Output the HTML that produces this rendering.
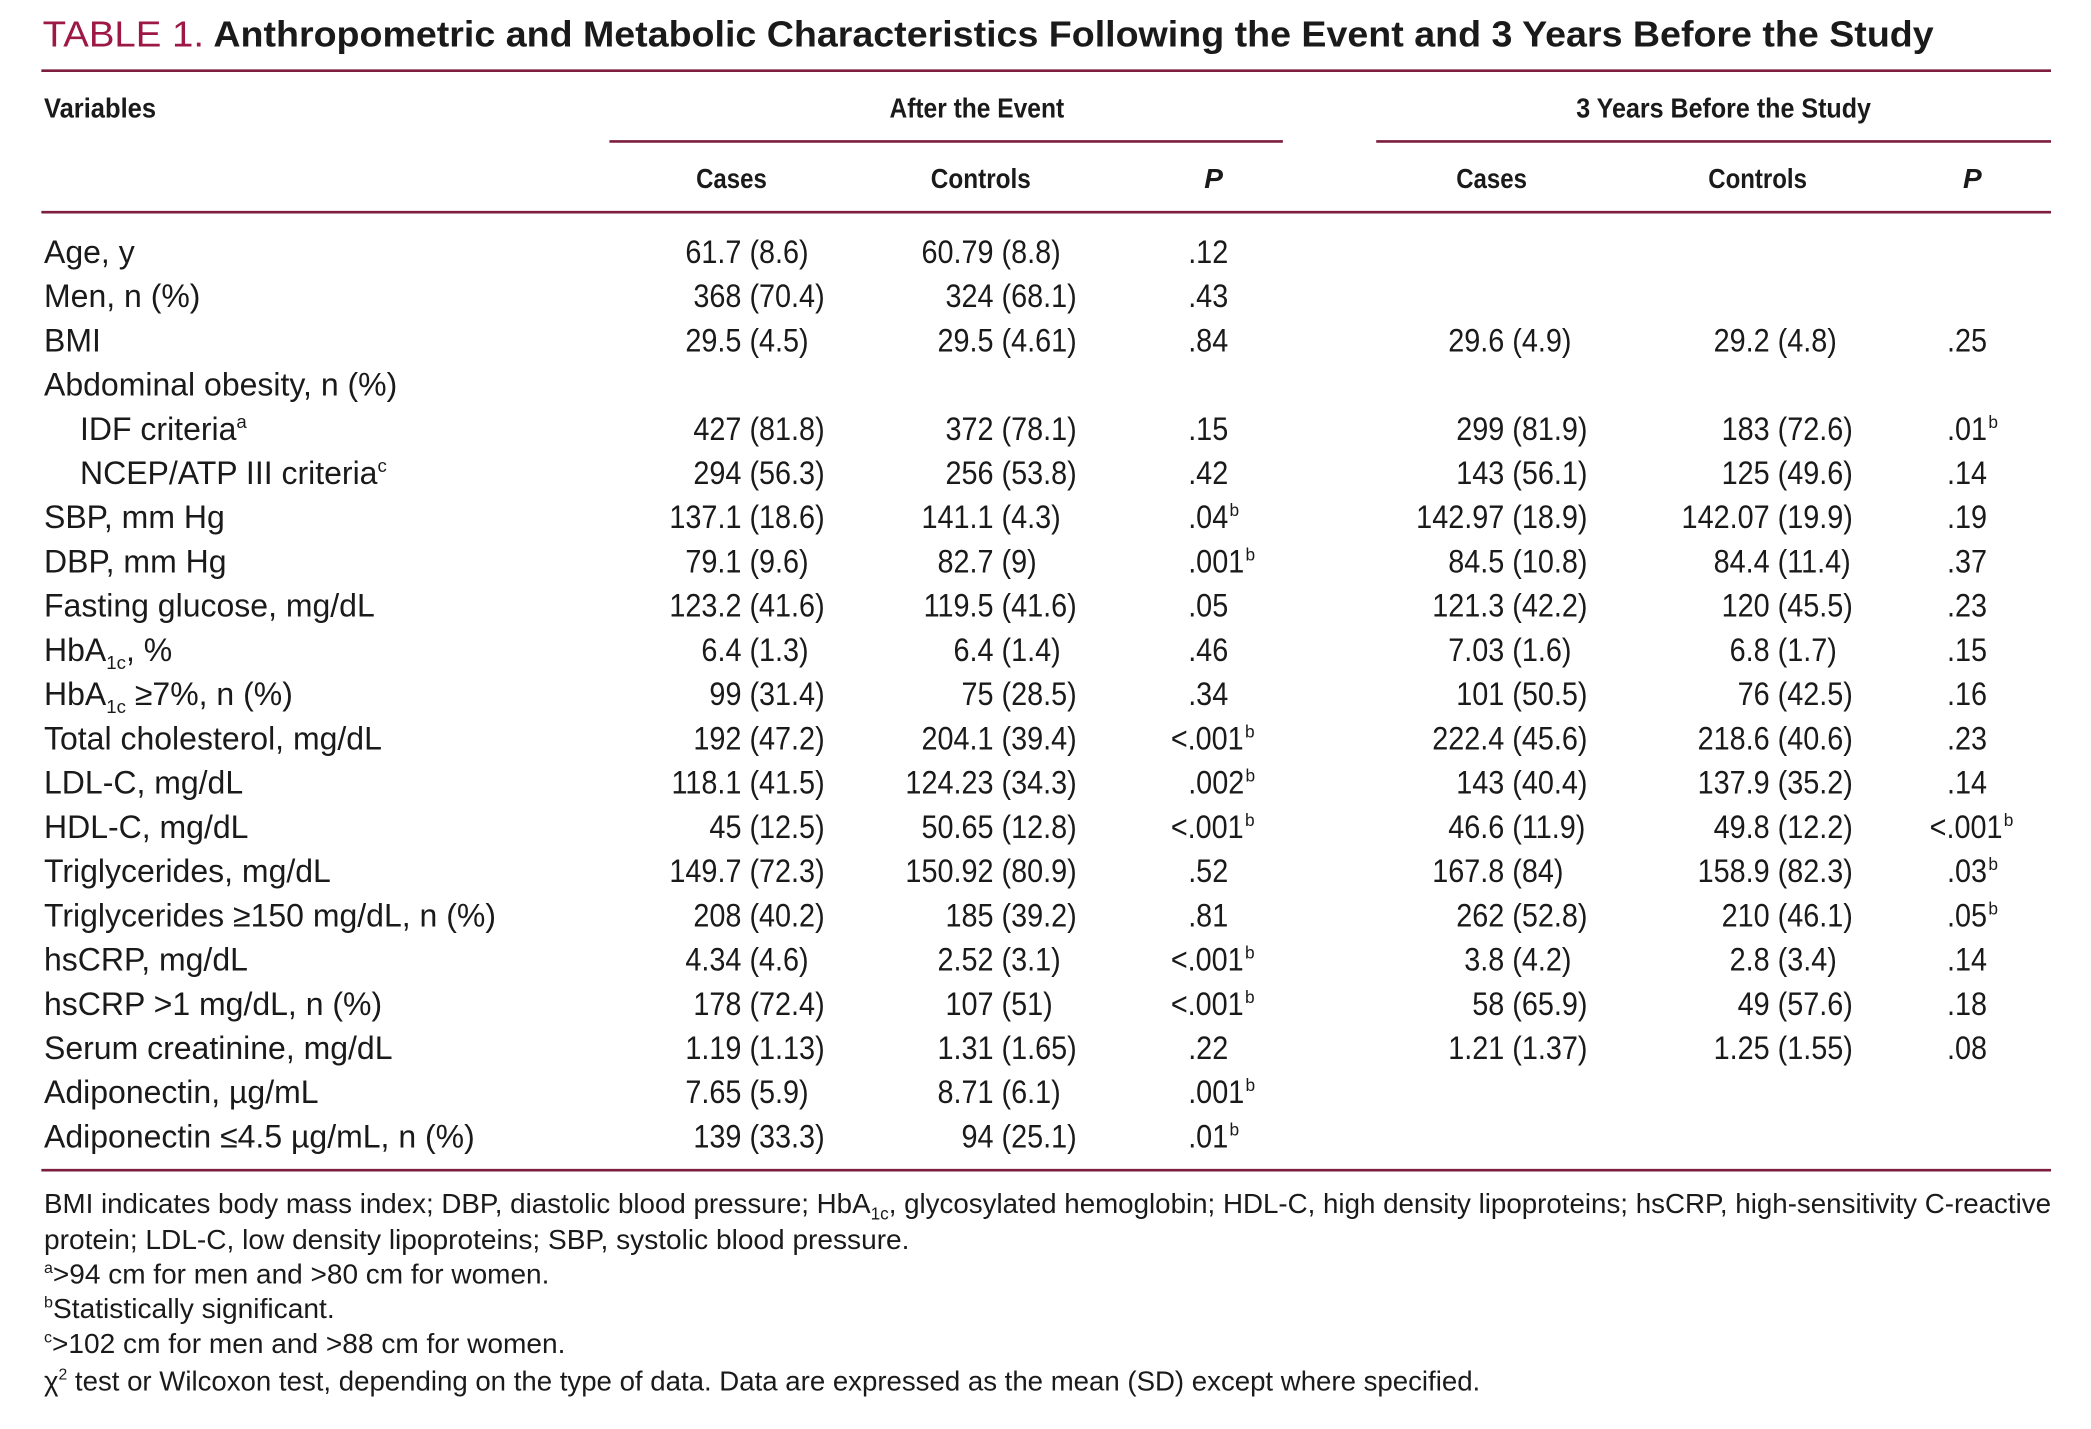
<!DOCTYPE html>
<html><head><meta charset="utf-8"><style>
html,body{margin:0;padding:0;background:#fff;}
svg{display:block;}
text{font-family:"Liberation Sans",Arial,sans-serif;fill:#1a1a1a;}
</style></head><body>
<svg id="tbl" width="2091" height="1429" viewBox="0 0 1568 1071" preserveAspectRatio="none" xmlns="http://www.w3.org/2000/svg">
<rect x="0" y="0" width="1568" height="1071" fill="#fff"/>
<text x="32" y="35" font-size="27"><tspan fill="#9e1847" textLength="121" lengthAdjust="spacingAndGlyphs">TABLE 1.</tspan></text>
<text x="160" y="35" font-size="27" font-weight="bold" textLength="1290" lengthAdjust="spacingAndGlyphs">Anthropometric and Metabolic Characteristics Following the Event and 3 Years Before the Study</text>
<line x1="31" y1="53" x2="1538" y2="53" stroke="#7d1d3f" stroke-width="2"/>
<line x1="457" y1="106" x2="962" y2="106" stroke="#7d1d3f" stroke-width="2"/>
<line x1="1032" y1="106" x2="1538" y2="106" stroke="#7d1d3f" stroke-width="2"/>
<line x1="31" y1="159" x2="1538" y2="159" stroke="#7d1d3f" stroke-width="2"/>
<line x1="31" y1="877" x2="1538" y2="877" stroke="#7d1d3f" stroke-width="2"/>
<text x="33" y="88" font-size="21" font-weight="bold" textLength="84" lengthAdjust="spacingAndGlyphs">Variables</text>
<text x="667" y="88" font-size="21" font-weight="bold" textLength="131" lengthAdjust="spacingAndGlyphs">After the Event</text>
<text x="1182" y="88" font-size="21" font-weight="bold" textLength="221" lengthAdjust="spacingAndGlyphs">3 Years Before the Study</text>
<text x="522" y="141" font-size="21" font-weight="bold" textLength="53" lengthAdjust="spacingAndGlyphs">Cases</text>
<text x="698" y="141" font-size="21" font-weight="bold" textLength="75" lengthAdjust="spacingAndGlyphs">Controls</text>
<text x="903" y="141" font-size="21" font-weight="bold" font-style="italic">P</text>
<text x="1092" y="141" font-size="21" font-weight="bold" textLength="53" lengthAdjust="spacingAndGlyphs">Cases</text>
<text x="1281" y="141" font-size="21" font-weight="bold" textLength="74" lengthAdjust="spacingAndGlyphs">Controls</text>
<text x="1472" y="141" font-size="21" font-weight="bold" font-style="italic">P</text>
<g id="rows"></g>
<g id="foot" font-size="21">
<text x="33" y="909" textLength="1505" lengthAdjust="spacingAndGlyphs">BMI indicates body mass index; DBP, diastolic blood pressure; HbA<tspan font-size="13" dy="5">1c</tspan><tspan dy="-5">, glycosylated hemoglobin; HDL-C, high density lipoproteins; hsCRP, high-sensitivity C-reactive</tspan></text>
<text x="33" y="936" textLength="649" lengthAdjust="spacingAndGlyphs">protein; LDL-C, low density lipoproteins; SBP, systolic blood pressure.</text>
<text x="33" y="962" textLength="379" lengthAdjust="spacingAndGlyphs"><tspan font-size="12" dy="-8">a</tspan><tspan dy="8">&gt;94 cm for men and &gt;80 cm for women.</tspan></text>
<text x="33" y="988" textLength="218" lengthAdjust="spacingAndGlyphs"><tspan font-size="12" dy="-8">b</tspan><tspan dy="8">Statistically significant.</tspan></text>
<text x="33" y="1014" textLength="391" lengthAdjust="spacingAndGlyphs"><tspan font-size="12" dy="-8">c</tspan><tspan dy="8">&gt;102 cm for men and &gt;88 cm for women.</tspan></text>
<text x="33" y="1042" textLength="1077" lengthAdjust="spacingAndGlyphs">χ<tspan font-size="12" dy="-8">2</tspan><tspan dy="8"> test or Wilcoxon test, depending on the type of data. Data are expressed as the mean (SD) except where specified.</tspan></text>
</g>
</svg>
<script>
const labels = ["Age, y","Men, n (%)","BMI","Abdominal obesity, n (%)","IDF criteria^a","NCEP/ATP III criteria^c","SBP, mm Hg","DBP, mm Hg","Fasting glucose, mg/dL","HbA_1c, %","HbA_1c ≥7%, n (%)","Total cholesterol, mg/dL","LDL-C, mg/dL","HDL-C, mg/dL","Triglycerides, mg/dL","Triglycerides ≥150 mg/dL, n (%)","hsCRP, mg/dL","hsCRP >1 mg/dL, n (%)","Serum creatinine, mg/dL","Adiponectin, µg/mL","Adiponectin ≤4.5 µg/mL, n (%)"];
const indent = [0,0,0,0,1,1,0,0,0,0,0,0,0,0,0,0,0,0,0,0,0];
const casesAfter = ["61.7 (8.6)","368 (70.4)","29.5 (4.5)","","427 (81.8)","294 (56.3)","137.1 (18.6)","79.1 (9.6)","123.2 (41.6)","6.4 (1.3)","99 (31.4)","192 (47.2)","118.1 (41.5)","45 (12.5)","149.7 (72.3)","208 (40.2)","4.34 (4.6)","178 (72.4)","1.19 (1.13)","7.65 (5.9)","139 (33.3)"];
const controlsAfter = ["60.79 (8.8)","324 (68.1)","29.5 (4.61)","","372 (78.1)","256 (53.8)","141.1 (4.3)","82.7 (9)","119.5 (41.6)","6.4 (1.4)","75 (28.5)","204.1 (39.4)","124.23 (34.3)","50.65 (12.8)","150.92 (80.9)","185 (39.2)","2.52 (3.1)","107 (51)","1.31 (1.65)","8.71 (6.1)","94 (25.1)"];
const pAfter = [".12",".43",".84","",".15",".42",".04^b",".001^b",".05",".46",".34","<.001^b",".002^b","<.001^b",".52",".81","<.001^b","<.001^b",".22",".001^b",".01^b"];
const cases3y = ["","","29.6 (4.9)","","299 (81.9)","143 (56.1)","142.97 (18.9)","84.5 (10.8)","121.3 (42.2)","7.03 (1.6)","101 (50.5)","222.4 (45.6)","143 (40.4)","46.6 (11.9)","167.8 (84)","262 (52.8)","3.8 (4.2)","58 (65.9)","1.21 (1.37)","",""];
const controls3y = ["","","29.2 (4.8)","","183 (72.6)","125 (49.6)","142.07 (19.9)","84.4 (11.4)","120 (45.5)","6.8 (1.7)","76 (42.5)","218.6 (40.6)","137.9 (35.2)","49.8 (12.2)","158.9 (82.3)","210 (46.1)","2.8 (3.4)","49 (57.6)","1.25 (1.55)","",""];
const p3y = ["","",".25","",".01^b",".14",".19",".37",".23",".15",".16",".23",".14","<.001^b",".03^b",".05^b",".14",".18",".08","",""];

const NS = "http://www.w3.org/2000/svg";
const g = document.getElementById('rows');
const rowY = i => 197 + i * 33.15;
const SX = 0.9;

function txt(x, y, s, anchor, sx) {
  const t = document.createElementNS(NS, 'text');
  t.setAttribute('font-size', '24');
  t.setAttribute('text-anchor', anchor);
  t.setAttribute('transform', 'translate(' + x + ',' + y + ') scale(' + sx + ',1)');
  t.textContent = s;
  g.appendChild(t);
  return t;
}
function sup(x, y, s) {
  const t = document.createElementNS(NS, 'text');
  t.setAttribute('font-size', '13');
  t.setAttribute('x', x);
  t.setAttribute('y', y - 9);
  t.textContent = s;
  g.appendChild(t);
  return t;
}
function cell(parenX, y, v, name) {
  if (!v) return;
  const k = v.indexOf(' (');
  const a = txt(parenX - 6, y, v.slice(0, k), 'end', SX);
  
  
  const b = txt(parenX, y, v.slice(k + 1), 'start', SX);
  
  
}
function pcell(x, y, v, name) {
  if (!v) return;
  const parts = v.split('^');
  const main = parts[0];
  let x0 = x;
  if (main[0] === '<') x0 -= 13;
  const t = txt(x0, y, main, 'start', SX);
  
  
  if (parts[1]) {
    let w = main.length * 11;
    try { w = t.getComputedTextLength() * SX; } catch (e) {}
    const s = sup(x0 + w + 1, y, parts[1]);
    
    
  }
}
labels.forEach((lab, i) => {
  const y = rowY(i);
  const t = document.createElementNS(NS, 'text');
  t.setAttribute('font-size', '24');
  t.setAttribute('x', indent[i] ? 60 : 33);
  t.setAttribute('y', y);
  
  
  const m = lab.match(/^(.*?)([_^])(\w+)(.*)$/);
  if (m) {
    const a = document.createElementNS(NS, 'tspan'); a.textContent = m[1]; t.appendChild(a);
    const b = document.createElementNS(NS, 'tspan');
    b.setAttribute('font-size', '14');
    b.setAttribute('dy', m[2] === '_' ? '6' : '-9');
    b.textContent = m[3]; t.appendChild(b);
    if (m[4]) {
      const c = document.createElementNS(NS, 'tspan');
      c.setAttribute('dy', m[2] === '_' ? '-6' : '9');
      c.textContent = m[4]; t.appendChild(c);
    }
  } else t.textContent = lab;
  g.appendChild(t);
  cell(562, y, casesAfter[i], 'cases-after');
  cell(751, y, controlsAfter[i], 'controls-after');
  pcell(891, y, pAfter[i], 'p-after');
  cell(1134, y, cases3y[i], 'cases-3y');
  cell(1333, y, controls3y[i], 'controls-3y');
  pcell(1460, y, p3y[i], 'p-3y');
});
</script>
</body></html>
